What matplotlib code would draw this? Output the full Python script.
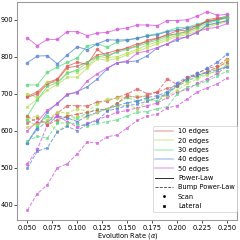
import matplotlib
matplotlib.use("Agg")
import matplotlib.pyplot as plt
from matplotlib.lines import Line2D

alpha_rates = [0.05, 0.06, 0.07, 0.08, 0.09, 0.10, 0.11, 0.12, 0.13, 0.14, 0.15,
               0.16, 0.17, 0.18, 0.19, 0.20, 0.21, 0.22, 0.23, 0.24, 0.25]
edge_labels = ["10 edges", "20 edges", "30 edges", "40 edges", "50 edges"]
colors = ["#db5f57", "#b9db57", "#57db80", "#5784db", "#d357db"]

# Power-Law (solid)
pl_scan = {
    "10 edges": [693, 705, 730, 740, 775, 785, 780, 820, 800, 815, 825, 835, 840, 850, 858, 862, 868, 880, 900, 905, 908],
    "20 edges": [700, 690, 733, 730, 758, 760, 775, 800, 798, 800, 810, 820, 832, 840, 850, 858, 865, 875, 885, 890, 900],
    "30 edges": [724, 724, 758, 772, 785, 797, 830, 835, 826, 840, 845, 850, 858, 862, 870, 878, 880, 888, 896, 900, 912],
    "40 edges": [784, 802, 803, 781, 805, 827, 819, 835, 846, 845, 846, 850, 856, 860, 868, 872, 878, 884, 894, 900, 906],
    "50 edges": [851, 830, 847, 847, 868, 868, 857, 864, 866, 874, 878, 886, 886, 884, 898, 898, 900, 910, 922, 912, 915],
}
pl_lateral = {
    "10 edges": [690, 700, 725, 738, 770, 775, 785, 805, 810, 818, 822, 830, 845, 850, 860, 870, 872, 885, 896, 902, 905],
    "20 edges": [665, 685, 710, 725, 745, 745, 770, 795, 790, 795, 805, 815, 825, 835, 845, 855, 860, 870, 880, 888, 895],
    "30 edges": [640, 683, 720, 730, 755, 765, 785, 800, 805, 812, 820, 828, 838, 845, 855, 862, 870, 880, 890, 898, 905],
    "40 edges": [568, 610, 650, 675, 697, 706, 719, 740, 768, 784, 786, 789, 803, 824, 835, 845, 855, 865, 886, 892, 897],
    "50 edges": [600, 625, 656, 672, 700, 703, 735, 754, 770, 784, 789, 810, 816, 825, 835, 850, 853, 868, 876, 880, 890],
}
# Bump Power-Law (dashed)
bpl_scan = {
    "10 edges": [640, 622, 625, 648, 668, 668, 667, 678, 681, 690, 700, 713, 700, 705, 740, 725, 740, 755, 768, 775, 795],
    "20 edges": [632, 640, 630, 650, 648, 660, 652, 672, 685, 688, 690, 695, 692, 676, 705, 720, 735, 748, 760, 770, 790],
    "30 edges": [628, 612, 640, 625, 640, 635, 648, 660, 655, 675, 690, 680, 685, 680, 700, 720, 735, 745, 755, 760, 780],
    "40 edges": [567, 605, 625, 640, 635, 625, 640, 650, 660, 668, 676, 680, 690, 695, 705, 730, 745, 755, 770, 785, 808],
    "50 edges": [510, 550, 615, 640, 625, 610, 620, 630, 640, 650, 655, 662, 668, 675, 690, 705, 712, 728, 740, 755, 775],
}
bpl_lateral = {
    "10 edges": [620, 635, 615, 630, 640, 645, 650, 655, 660, 675, 695, 690, 695, 705, 715, 720, 745, 750, 760, 772, 785],
    "20 edges": [610, 618, 625, 600, 615, 640, 635, 650, 660, 665, 670, 660, 680, 690, 695, 710, 728, 740, 752, 762, 778],
    "30 edges": [572, 585, 580, 620, 622, 618, 612, 620, 625, 630, 640, 650, 652, 660, 665, 700, 718, 725, 735, 748, 762],
    "40 edges": [499, 545, 554, 597, 612, 600, 619, 627, 654, 660, 668, 672, 680, 690, 700, 725, 740, 750, 758, 765, 773],
    "50 edges": [385, 430, 454, 500, 511, 538, 570, 567, 584, 589, 608, 628, 640, 645, 662, 668, 686, 705, 716, 727, 743],
}

plt.rcParams['font.family'] = ['DejaVu Sans']
plt.rcParams['font.size'] = 10

fig = plt.figure(figsize=(5, 5), dpi=48)
ax = fig.add_axes([0.072, 0.082, 0.917, 0.911])

for data, ls, mk, ms in [(pl_scan, '-', 'o', 4.5), (pl_lateral, '-', 's', 4.2),
                         (bpl_scan, '--', 'o', 4.5), (bpl_lateral, '--', 's', 4.2)]:
    for lab, c in zip(edge_labels, colors):
        ax.plot(alpha_rates, data[lab], linestyle=ls, marker=mk, color=c,
                lw=1.5, ms=ms, alpha=0.75)

for s in ax.spines.values():
    s.set_color('#9a9a9a')
    s.set_linewidth(1.6)
ax.tick_params(length=4, width=1.0, pad=2.5)
ax.set_xticks([0.05, 0.075, 0.1, 0.125, 0.15, 0.175, 0.2, 0.225, 0.25])
ax.set_yticks([400, 500, 600, 700, 800, 900])
ax.set_xlabel(r"Evolution Rate ($\alpha$)", labelpad=0)

handles = [Line2D([], [], color=c, lw=2.5, alpha=0.4) for c in colors]
handles += [Line2D([], [], color='#333333', lw=1.5, ls='-'),
            Line2D([], [], color='#333333', lw=1.2, ls='--'),
            Line2D([], [], color='k', lw=0, marker='.', ms=6),
            Line2D([], [], color='k', lw=0, marker='s', ms=4)]
labels = edge_labels + ["Power-Law", "Bump Power-Law", "Scan", "Lateral"]
ax.legend(handles, labels, loc='lower right', bbox_to_anchor=(1.0, 0.04),
          borderaxespad=0.0, handlelength=2.6, framealpha=1.0)

fig.savefig("out.png", dpi=48)
